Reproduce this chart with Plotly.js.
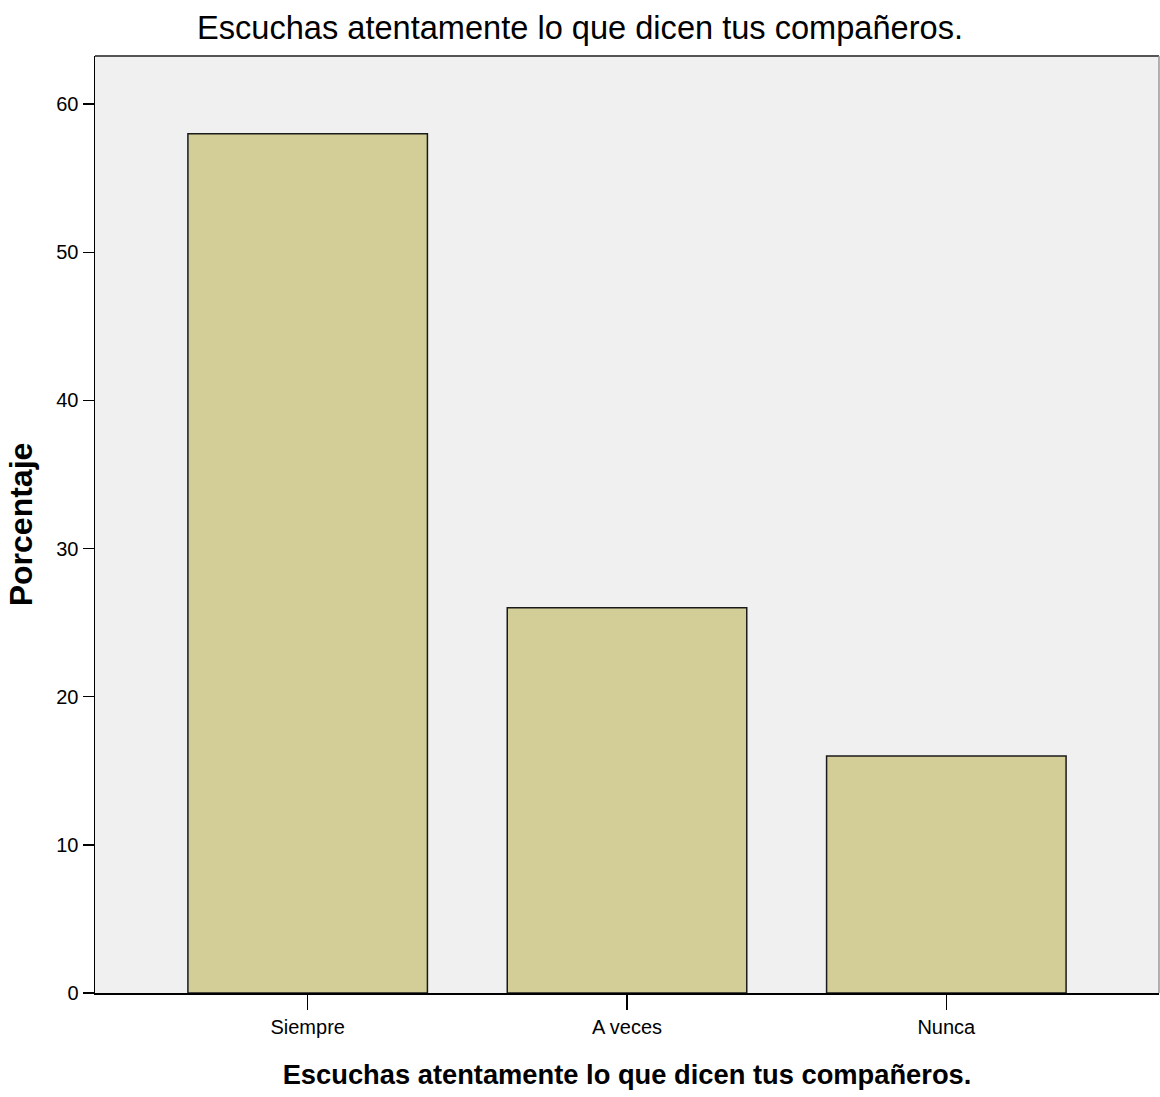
<!DOCTYPE html>
<html>
<head>
<meta charset="utf-8">
<script src="https://cdn.plot.ly/plotly-3.0.1.min.js"></script>
<style>html,body{margin:0;padding:0;background:#fff;}#chart{width:1160px;height:1097px;}</style>
</head>
<body>
<div id="chart"></div>
<script>
const categories = ["Siempre", "A veces", "Nunca"];
const percentages = [58, 26, 16];
const yTicks = [0, 10, 20, 30, 40, 50, 60];
const chartTitle = "Escuchas atentamente lo que dicen tus compañeros.";
const xTitle = "Escuchas atentamente lo que dicen tus compañeros.";
const yTitle = "Porcentaje";

const trace = {
  type: "bar",
  x: categories,
  y: percentages,
  width: 0.75,
  marker: {color: "#d3ce98", line: {color: "#1a1a1a", width: 1.5}},
  hoverinfo: "x+y"
};

const layout = {
  width: 1160, height: 1097,
  margin: {l: 95, r: 1, t: 56, b: 104},
  paper_bgcolor: "#ffffff",
  plot_bgcolor: "#f0f0f0",
  showlegend: false,
  title: {
    text: chartTitle,
    font: {family: "Liberation Sans, Arial, sans-serif", size: 32.6, color: "#000"},
    x: 0.5, xanchor: "center", y: 0.975, yanchor: "middle"
  },
  xaxis: {
    type: "category",
    range: [-0.666, 2.666],
    showgrid: false, zeroline: false,
    showline: true, linecolor: "#000", linewidth: 1.5,
    ticks: "outside", ticklen: 15, tickwidth: 1.5, tickcolor: "#000",
    tickfont: {family: "Liberation Sans, Arial, sans-serif", size: 20, color: "#000"},
    title: {text: xTitle, standoff: 28,
      font: {family: "Liberation Sans, Arial, sans-serif", size: 27.3, color: "#000", weight: "bold"}}
  },
  yaxis: {
    range: [0, 63.25],
    tickvals: yTicks,
    ticktext: yTicks.map(String),
    showgrid: false, zeroline: false,
    showline: true, linecolor: "#000", linewidth: 1.5,
    ticks: "outside", ticklen: 11, tickwidth: 1.5, tickcolor: "#000",
    tickfont: {family: "Liberation Sans, Arial, sans-serif", size: 20, color: "#000"},
    title: {text: yTitle, standoff: 14,
      font: {family: "Liberation Sans, Arial, sans-serif", size: 32, color: "#000", weight: "bold"}}
  },
  shapes: [
    {type: "line", xref: "paper", yref: "paper", x0: 0, x1: 1, y0: 1, y1: 1, line: {color: "#555", width: 2}},
    {type: "line", xref: "paper", yref: "paper", x0: 1, x1: 1, y0: 0, y1: 1, line: {color: "#999", width: 1.5}}
  ]
};

Plotly.newPlot("chart", [trace], layout, {displayModeBar: false, staticPlot: true});
</script>
</body>
</html>
